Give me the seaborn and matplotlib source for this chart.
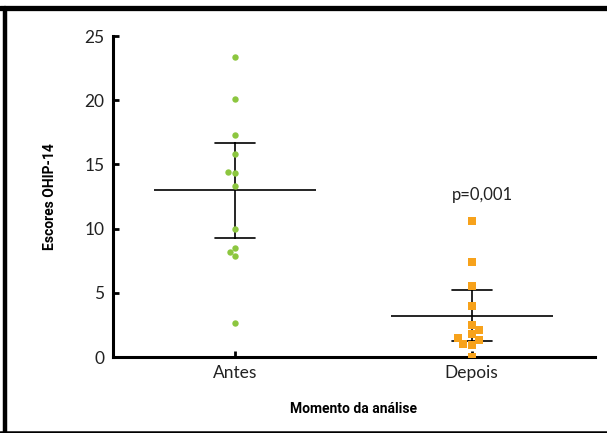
import numpy as np
import pandas as pd
import matplotlib
matplotlib.use("Agg")
import matplotlib.pyplot as plt
import seaborn as sns
from matplotlib.lines import Line2D

# data (OHIP-14 scores)
groups = ["Antes", "Depois"]
antes = [23.4, 20.1, 17.3, 15.8, 14.3, 14.4, 13.3, 10.0, 8.2, 8.5, 7.9, 2.65]
depois = [10.6, 7.4, 5.5, 4.0, 2.5, 2.1, 1.8, 1.5, 1.3, 1.0, 0.95, 0.0]
yticks = [0, 5, 10, 15, 20, 25]
p_text = "p=0,001"

df = pd.DataFrame({
    "Momento": ["Antes"] * len(antes) + ["Depois"] * len(depois),
    "Escore": antes + depois,
})

green = "#8cc63f"
orange = "#f7a21b"


# 95% CI of the mean (t distribution, n=12)
def ci95(v):
    v = np.asarray(v)
    m = v.mean()
    h = 2.201 * v.std(ddof=1) / np.sqrt(len(v))
    return m - h, m + h


sns.set_style("ticks")
plt.rcParams["font.family"] = ["Lato", "DejaVu Sans"]

fig = plt.figure(figsize=(6.07, 4.33), dpi=100)
ax = fig.add_axes([0.186, 0.1755, 0.794, 0.741])

sns.swarmplot(data=df[df.Momento == "Antes"], x="Momento", y="Escore", order=groups,
              color=green, marker="o", size=4.6, linewidth=0, ax=ax)
sns.swarmplot(data=df[df.Momento == "Depois"], x="Momento", y="Escore", order=groups,
              color=orange, marker="s", size=5.8, linewidth=0, ax=ax)

# mean + 95% CI
sns.pointplot(data=df, x="Momento", y="Escore", order=groups, estimator="mean",
              errorbar=ci95, capsize=0.17, linestyle="none", color="black",
              marker="_", markersize=117, markeredgewidth=1.2, err_kws={"linewidth": 1.2},
              ax=ax)

ax.set_xlim(-0.515, 1.52)
ax.set_ylim(0, 25)
ax.set_yticks(yticks)
ax.tick_params(direction="in", length=4, width=2, labelsize=12.5, colors="black", pad=6)
for lbl in ax.get_xticklabels() + ax.get_yticklabels():
    lbl.set_color("#222222")
for s in ["top", "right"]:
    ax.spines[s].set_visible(False)
for s in ["left", "bottom"]:
    ax.spines[s].set_linewidth(2.2)
    ax.spines[s].set_color("black")

lab_font = dict(family=["Roboto", "DejaVu Sans"], fontweight="bold",
                fontsize=10, color="black")
ax.set_xlabel("Momento da análise", labelpad=15, **lab_font)
ax.set_ylabel("Escores OHIP-14", labelpad=20, **lab_font)

ax.text(1.045, 12.6, p_text, ha="center", va="center", fontsize=12, color="#222222")

# outer frame of the figure
fig.add_artist(Line2D([0, 1], [1 - 7.5 / 433] * 2, transform=fig.transFigure, color="black", lw=3.8))
fig.add_artist(Line2D([5 / 607] * 2, [0, 1 - 7.5 / 433], transform=fig.transFigure, color="black", lw=3.2))
fig.add_artist(Line2D([0, 1], [1.5 / 433] * 2, transform=fig.transFigure, color="black", lw=1.8))

fig.savefig("out.png", dpi=100, facecolor="white")
